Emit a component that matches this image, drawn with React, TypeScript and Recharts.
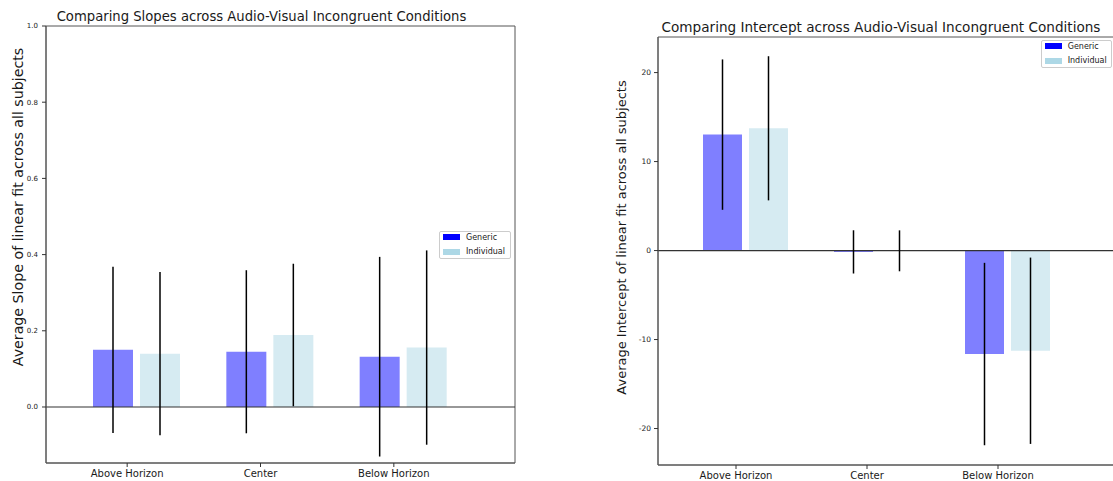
import { ComposedChart, Bar, XAxis, YAxis, ErrorBar, ReferenceLine, CartesianGrid, Legend } from 'recharts';

const conditions = ['Above Horizon', 'Center', 'Below Horizon'];

const slopeGeneric = [0.15, 0.145, 0.132];
const slopeGenericErr = [0.218, 0.214, 0.262];
const slopeIndividual = [0.14, 0.189, 0.156];
const slopeIndividualErr = [0.214, 0.187, 0.255];
const slopeTicks = [0, 0.2, 0.4, 0.6, 0.8, 1.0];

const interceptGeneric = [13.03, -0.15, -11.63];
const interceptGenericErr = [8.45, 2.43, 10.25];
const interceptIndividual = [13.74, -0.03, -11.26];
const interceptIndividualErr = [8.1, 2.3, 10.47];
const interceptTicks = [-20, -10, 0, 10, 20];

const slopeData = conditions.map((name, i) => ({
  name,
  generic: slopeGeneric[i],
  genericErr: slopeGenericErr[i],
  individual: slopeIndividual[i],
  individualErr: slopeIndividualErr[i],
}));

const interceptData = conditions.map((name, i) => ({
  name,
  generic: interceptGeneric[i],
  genericErr: interceptGenericErr[i],
  individual: interceptIndividual[i],
  individualErr: interceptIndividualErr[i],
}));

const textColor = '#1a1a1a';
const spineColor = '#555';

// matplotlib put the ticks a bit left of the bar group centre
function ShiftedTick({ x, y, payload }: any) {
  const tx = x - 9.5;
  return (
    <g>
      <line x1={tx} y1={y} x2={tx} y2={y + 4} stroke="#333" />
      <text x={tx} y={y + 7} dy="0.71em" textAnchor="middle" fontSize={10} fill={textColor}>
        {payload.value}
      </text>
    </g>
  );
}

function LegendBox({ payload }: any) {
  return (
    <div style={{
      border: '1px solid #ccc', borderRadius: 2, background: '#fff',
      padding: '0 3px 1.5px 3px', fontSize: 8, color: textColor, boxSizing: 'border-box', height: 28,
    }}>
      {(payload || []).map((entry: any, i: number) => (
        <div key={entry.value} style={{ display: 'flex', alignItems: 'center', height: 10, marginTop: i === 0 ? 0 : 4.5 }}>
          <span style={{ display: 'inline-block', width: 17, height: 6, background: entry.color, marginRight: 6 }} />
          <span>{entry.value}</span>
        </div>
      ))}
    </div>
  );
}

function yTitle(x: number, y: number, size: number, text: string) {
  return () => (
    <text x={x} y={y} transform={`rotate(-90 ${x} ${y})`} textAnchor="middle" dominantBaseline="central"
      fontSize={size} fill={textColor}>
      {text}
    </text>
  );
}

function Title({ x, y, size, text }: { x: number; y: number; size: number; text: string }) {
  return (
    <div style={{
      position: 'absolute', left: x, top: y, transform: 'translate(-50%, -50%)',
      whiteSpace: 'nowrap', fontSize: size, color: textColor, zIndex: 2,
    }}>
      {text}
    </div>
  );
}

// the grid is only used to draw the box around the plot area
const frameRows = ({ offset }: any) => [offset.top, offset.top + offset.height];
const frameCols = ({ offset }: any) => [offset.left, offset.left + offset.width];

export default function App() {
  const slopeDomain: [number, number] = [-0.147, 1.0];
  const interceptDomain: [number, number] = [-24.1, 24.0];

  return (
    <div style={{
      position: 'absolute', left: 0, top: 0, width: 1113, height: 481, overflow: 'hidden',
      background: '#fff', fontFamily: '"DejaVu Sans", sans-serif',
    }}>
      <div style={{ position: 'absolute', left: 0, top: 0 }}>
        <ComposedChart width={560} height={481} data={slopeData} barSize={40} barGap={7}
          margin={{ top: 26, right: 45, bottom: 0, left: 0 }}>
          <CartesianGrid stroke={spineColor} horizontalCoordinatesGenerator={frameRows}
            verticalCoordinatesGenerator={frameCols} />
          <XAxis dataKey="name" height={18} padding={{ left: 24, right: 45 }} tickSize={0} tickMargin={0}
            tickLine={false} axisLine={{ stroke: spineColor }} tick={<ShiftedTick />} interval={0} />
          <YAxis type="number" width={46} domain={slopeDomain} ticks={slopeTicks} allowDataOverflow
            tickFormatter={(v: number) => v.toFixed(1)} tickSize={4} tickMargin={4}
            tick={{ fontSize: 7, fill: textColor }} tickLine={{ stroke: '#333' }} axisLine={{ stroke: spineColor }}
            label={{ value: 'slope', content: yTitle(18, 207, 14.2, 'Average Slope of linear fit across all subjects') }} />
          <ReferenceLine y={0} stroke="#333" strokeWidth={1.2} />
          <Bar dataKey="generic" name="Generic" fill="blue" fillOpacity={0.5} isAnimationActive={false}>
            <ErrorBar dataKey="genericErr" width={0} stroke="#000" strokeWidth={1.5} />
          </Bar>
          <Bar dataKey="individual" name="Individual" fill="#add8e6" fillOpacity={0.5} isAnimationActive={false}>
            <ErrorBar dataKey="individualErr" width={0} stroke="#000" strokeWidth={1.5} />
          </Bar>
          <Legend layout="horizontal" verticalAlign="middle" align="center" content={<LegendBox />}
            wrapperStyle={{ left: 439, top: 231, width: 72, height: 28 }} />
        </ComposedChart>
        <Title x={261.5} y={16} size={13.2} text="Comparing Slopes across Audio-Visual Incongruent Conditions" />
      </div>

      <div style={{ position: 'absolute', left: 560, top: 0 }}>
        <ComposedChart width={600} height={481} data={interceptData} barSize={39} barGap={7}
          margin={{ top: 37, right: 42, bottom: 0, left: 0 }}>
          <CartesianGrid stroke={spineColor} horizontalCoordinatesGenerator={frameRows}
            verticalCoordinatesGenerator={frameCols} />
          <XAxis dataKey="name" height={16} padding={{ left: 22, right: 45 }} tickSize={0} tickMargin={0}
            tickLine={false} axisLine={{ stroke: spineColor }} tick={<ShiftedTick />} interval={0} />
          <YAxis type="number" width={98} domain={interceptDomain} ticks={interceptTicks} allowDataOverflow
            tickSize={4} tickMargin={3}
            tick={{ fontSize: 7.5, fill: textColor }} tickLine={{ stroke: '#333' }} axisLine={{ stroke: spineColor }}
            label={{ value: 'intercept', content: yTitle(61.7, 237.5, 13, 'Average Intercept of linear fit across all subjects') }} />
          <ReferenceLine y={0} stroke="#333" strokeWidth={1.2} />
          <Bar dataKey="generic" name="Generic" fill="blue" fillOpacity={0.5} isAnimationActive={false}>
            <ErrorBar dataKey="genericErr" width={0} stroke="#000" strokeWidth={1.5} />
          </Bar>
          <Bar dataKey="individual" name="Individual" fill="#add8e6" fillOpacity={0.5} isAnimationActive={false}>
            <ErrorBar dataKey="individualErr" width={0} stroke="#000" strokeWidth={1.5} />
          </Bar>
          <Legend layout="horizontal" verticalAlign="middle" align="center" content={<LegendBox />}
            wrapperStyle={{ left: 480.7, top: 40, width: 71, height: 28 }} />
        </ComposedChart>
        <Title x={321} y={26.7} size={13.6} text="Comparing Intercept across Audio-Visual Incongruent Conditions" />
      </div>
    </div>
  );
}
